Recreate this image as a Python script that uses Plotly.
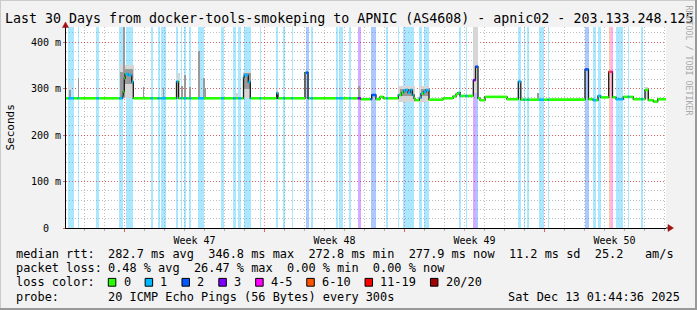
import numpy as np
import pandas as pd
import plotly.graph_objects as go

# ---------------- data ----------------
START = pd.Timestamp("2025-11-14 01:44:36")
SPAN_DAYS = 30
END = START + pd.Timedelta(days=SPAN_DAYS)
STAMP = "Sat Dec 13 01:44:36 2025"
TITLE = "Last 30 Days from docker-tools-smokeping to APNIC (AS4608) - apnic02 - 203.133.248.125"
WATERMARK = "RRDTOOL / TOBI OETIKER"

Y_MAX = 0.4323
y_ticks = [0.0, 0.1, 0.2, 0.3, 0.4]
y_tick_labels = ["0\u00a0\u00a0", "100 m", "200 m", "300 m", "400 m"]

loss_labels = ["0", "1", "2", "3", "4-5", "6-10", "11-19", "20/20"]
loss_colors = ["#26ff00", "#00b8ff", "#0059ff", "#7e00ff", "#ff00ff", "#ff5500", "#ff0000", "#a10000"]

# median rtt as steps: day into window where the value starts, value in ms
median_day = [0.000, 2.825, 2.865, 2.915, 2.950, 3.115, 3.285, 3.365, 5.525, 5.625,
              8.875, 8.915, 9.115, 9.215, 10.535, 10.600, 11.950, 12.100, 14.735, 15.285,
              15.500, 15.700, 15.865, 16.615, 16.775, 16.875, 16.975, 17.100, 17.225, 17.325,
              17.400, 17.450, 17.665, 17.750, 17.875, 18.000, 18.150, 18.850, 19.350, 19.500,
              19.600, 19.700, 20.365, 20.475, 20.600, 20.700, 20.950, 22.050, 22.615, 22.740,
              25.950, 26.125, 26.350, 26.600, 26.735, 27.135, 27.325, 27.500, 27.865, 28.365,
              28.950, 29.115, 29.365, 29.585]
median_ms = [279, 284, 293, 322, 331, 329, 314, 279, 315, 279,
             324, 329, 314, 279, 290, 279, 334, 279, 277, 286,
             277, 282, 279, 286, 291, 295, 297, 291, 297, 286,
             279, 275, 280, 289, 293, 297, 276, 279, 283, 288,
             291, 284, 318, 347, 279, 275, 282, 277, 315, 276,
             341, 277, 275, 284, 281, 336, 281, 277, 282, 277,
             297, 275, 272, 277]

# packet loss periods (days into window) and loss class index
loss_start = [0.115, 0.585, 1.500, 2.665, 2.985, 4.235, 4.575, 4.735, 5.500, 5.735,
              5.885, 6.165, 6.600, 7.750, 8.365, 8.615, 8.885, 9.675, 10.515, 10.850,
              11.275, 11.985, 12.235, 13.500, 13.635, 14.150, 14.585, 15.225, 16.010, 16.600,
              16.865, 17.660, 17.875, 19.660, 19.975, 20.365, 20.475, 22.615, 22.875, 23.065,
              23.650, 24.085, 25.950, 26.340, 26.590, 27.135, 27.230, 27.490, 27.665, 28.090,
              28.760]
loss_end = [0.400, 0.650, 1.650, 2.850, 3.365, 4.350, 4.675, 5.000, 5.600, 5.800,
            6.015, 6.265, 6.900, 7.885, 8.475, 8.765, 9.250, 9.750, 10.615, 10.935,
            11.350, 12.135, 12.335, 13.600, 13.850, 14.250, 14.735, 15.500, 16.085, 16.665,
            17.375, 17.800, 18.150, 19.750, 20.065, 20.475, 20.600, 22.740, 22.950, 23.150,
            23.900, 24.135, 26.125, 26.500, 26.750, 27.230, 27.325, 27.650, 27.865, 28.165,
            28.850]
loss_level = [1, 1, 1, 1, 1, 1, 1, 1, 1, 1,
              1, 1, 1, 1, 1, 1, 1, 1, 1, 1,
              1, 2, 1, 1, 1, 1, 3, 2, 1, 1,
              1, 1, 1, 1, 1, 3, 2, 1, 1, 1,
              1, 1, 2, 1, 1, 5, 4, 1, 1, 1,
              1]

# smoke (spread of the 20 pings): outer = min..max, inner = denser part
smoke_outer_start = [0.125, 2.700, 5.525, 8.450, 8.825, 10.525, 16.600, 17.650, 20.365, 23.575, 28.950]
smoke_outer_end = [0.250, 3.400, 5.675, 8.615, 9.250, 10.615, 17.450, 18.150, 20.615, 23.625, 29.100]
smoke_outer_lo = [279, 279, 279, 279, 279, 279, 272, 272, 290, 277, 277]
smoke_outer_hi = [312, 350, 333, 290, 336, 298, 305, 305, 450, 290, 304]

smoke_inner_start = [0.125, 0.600, 2.700, 2.875, 2.950, 3.850, 4.850, 5.735, 5.885, 6.165,
                     6.600, 6.865, 6.915, 8.875, 14.575, 16.700, 17.750, 23.585]
smoke_inner_end = [0.225, 0.650, 2.865, 2.925, 3.350, 3.885, 4.900, 5.835, 5.985, 6.235,
                   6.685, 6.915, 7.000, 9.225, 14.700, 17.325, 18.150, 23.625]
smoke_inner_lo = [279, 279, 279, 279, 310, 279, 279, 279, 279, 279,
                  279, 279, 279, 300, 277, 283, 283, 277]
smoke_inner_hi = [296, 322, 335, 440, 342, 304, 301, 305, 329, 304,
                  381, 322, 301, 333, 305, 300, 300, 290]

# statistics shown in the legend
median_stats = ["282.7 ms avg", "346.8 ms max", "272.8 ms min", "277.9 ms now", "11.2 ms sd", "25.2   am/s"]
loss_stats = ["0.48 % avg", "26.47 % max", "0.00 % min", "0.00 % now"]
probe_text = "20 ICMP Echo Pings (56 Bytes) every 300s"

# ---------------- layout helpers ----------------
FONT = "DejaVu Sans Mono"
W, H = 697, 310
ML, MR, MT, MB = 66, 31, 27, 82
PW, PH = W - ML - MR, H - MT - MB
DAY_MS = 86400000
GRID_DASH = "1px,2px"


def px(x):
    return (x - ML) / PW


def py(y):
    return (H - MB - y) / PH


def t(days):
    return [START + pd.Timedelta(days=float(d)) if d is not None else None for d in days]


def rgba(hexc, a):
    h = hexc.lstrip("#")
    return "rgba(%d,%d,%d,%.3f)" % (int(h[0:2], 16), int(h[2:4], 16), int(h[4:6], 16), a)


fig = go.Figure()

# loss background bands
ls = np.array(loss_start)
le = np.array(loss_end)
fig.add_trace(go.Bar(
    x=t((ls + le) / 2), y=[Y_MAX] * len(ls), base=0,
    width=list((le - ls) * DAY_MS),
    marker=dict(color=[rgba(loss_colors[l], 0.33) for l in loss_level], line=dict(width=0)),
    hoverinfo="skip"))


def smoke(s, e, lo, hi, color):
    s = np.array(s); e = np.array(e)
    lo = np.array(lo) / 1000.0; hi = np.array(hi) / 1000.0
    fig.add_trace(go.Bar(
        x=t((s + e) / 2), y=list(hi - lo), base=list(lo),
        width=list((e - s) * DAY_MS),
        marker=dict(color=color, line=dict(width=0)), hoverinfo="skip"))


smoke(smoke_outer_start, smoke_outer_end, smoke_outer_lo, smoke_outer_hi, "#d6d6d6")
smoke(smoke_inner_start, smoke_inner_end, smoke_inner_lo, smoke_inner_hi, "#9a9a9a")

# median: dark step line (vertical transitions)
med_s = [v / 1000.0 for v in median_ms]
fig.add_trace(go.Scatter(
    x=t(median_day + [SPAN_DAYS]), y=med_s + [med_s[-1]], mode="lines",
    line=dict(color="#1a1a1a", width=1.3, shape="hv"), hoverinfo="skip"))

# median: horizontal parts coloured by loss class
edges = sorted(set([d for d in median_day + loss_start + loss_end if 0 <= d <= SPAN_DAYS] + [SPAN_DAYS]))
segs = {k: ([], []) for k in range(len(loss_colors))}
for a, b in zip(edges[:-1], edges[1:]):
    i = max(k for k, d in enumerate(median_day) if d <= a + 1e-9)
    v = med_s[i]
    lvl = 0
    for s, e, l in zip(loss_start, loss_end, loss_level):
        if s <= a + 1e-9 and a < e - 1e-9:
            lvl = l
    segs[lvl][0].extend([a, b, None])
    segs[lvl][1].extend([v, v, None])
for lvl, (xs, ys) in segs.items():
    if xs:
        fig.add_trace(go.Scatter(x=t(xs), y=ys, mode="lines", connectgaps=False,
                                 line=dict(color=loss_colors[lvl], width=2.6), hoverinfo="skip"))

# ---------------- texts ----------------
ann = []


def text(s, x, y, size, xanchor="left", color="#000", angle=0):
    ann.append(dict(text=s.replace(" ", "\u00a0"), x=px(x), y=py(y), xref="paper", yref="paper",
                    xanchor=xanchor, yanchor="middle", showarrow=False, borderpad=0,
                    font=dict(family=FONT, size=size, color=color), textangle=angle))


text(TITLE, 348.5, 18.7, 13.3, xanchor="center")
text("Seconds", 10, 127.5, 11, xanchor="center", angle=-90)
text(WATERMARK, 688.5, 60, 8.3, xanchor="center", color="#a8a8a8", angle=90)

LEG = 11.9
rows_y = [253.7, 268.0, 282.3, 296.7]
text("median rtt:", 15.3, rows_y[0], LEG)
text("  ".join(median_stats), 106.5, rows_y[0], LEG)
text("packet loss:", 15.3, rows_y[1], LEG)
text("  ".join(loss_stats), 106.5, rows_y[1], LEG)
text("loss color:", 15.3, rows_y[2], LEG)
text("probe:", 15.3, rows_y[3], LEG)
text(probe_text, 106.5, rows_y[3], LEG)
text(STAMP, 681, rows_y[3], LEG, xanchor="right")

shapes = []
bx = 108.3
for lab, col in zip(loss_labels, loss_colors):
    shapes.append(dict(type="rect", xref="paper", yref="paper",
                       x0=px(bx), x1=px(bx + 7.5), y0=py(rows_y[2] + 3.9), y1=py(rows_y[2] - 3.9),
                       fillcolor=col, line=dict(color="#000", width=1)))
    text(lab, bx + 14.2, rows_y[2], LEG)
    bx += len(lab) * 7.14 + 29.7

# frame
shapes += [
    dict(type="line", xref="paper", yref="paper", x0=px(0), x1=px(W), y0=py(0.5), y1=py(0.5),
         line=dict(color="#cbcbcb", width=1)),
    dict(type="line", xref="paper", yref="paper", x0=px(0.5), x1=px(0.5), y0=py(0), y1=py(H),
         line=dict(color="#cbcbcb", width=1)),
    dict(type="line", xref="paper", yref="paper", x0=px(0), x1=px(W), y0=py(H - 1), y1=py(H - 1),
         line=dict(color="#999999", width=2)),
    dict(type="line", xref="paper", yref="paper", x0=px(W - 1), x1=px(W - 1), y0=py(0), y1=py(H),
         line=dict(color="#999999", width=2)),
    # axis extensions and arrows
    dict(type="line", xref="paper", yref="paper", x0=px(666), x1=px(669), y0=py(228), y1=py(228),
         line=dict(color="#000", width=1)),
    dict(type="path", xref="paper", yref="paper",
         path="M %f,%f L %f,%f L %f,%f Z" % (px(668), py(224.5), px(673.5), py(228), px(668), py(231.5)),
         fillcolor="#a01010", line=dict(color="#a01010", width=0.5)),
    dict(type="path", xref="paper", yref="paper",
         path="M %f,%f L %f,%f L %f,%f Z" % (px(62.5), py(27.5), px(65.5), py(22), px(68.5), py(27.5)),
         fillcolor="#a01010", line=dict(color="#a01010", width=0.5)),
]

fig.update_layout(
    width=W, height=H, margin=dict(l=ML, r=MR, t=MT, b=MB, pad=0),
    paper_bgcolor="#f2f2f2", plot_bgcolor="#ffffff",
    showlegend=False, barmode="overlay", bargap=0,
    font=dict(family=FONT, size=10, color="#000"),
    annotations=ann, shapes=shapes,
    xaxis=dict(type="date", range=[START, END], tick0="2025-11-17", dtick=7 * DAY_MS,
               tickformat="Week %V", ticklabelmode="period",
               showgrid=True, gridcolor="rgba(255,0,0,0.5)", griddash=GRID_DASH, gridwidth=1,
               ticks="outside", ticklen=3, tickcolor="#e06060",
               showline=True, linecolor="#000", linewidth=1, zeroline=False,
               tickfont=dict(family=FONT, size=10, color="#000"),
               minor=dict(tick0="2025-11-17", dtick=DAY_MS, showgrid=True,
                          gridcolor="rgba(0,0,0,0.25)", griddash=GRID_DASH, gridwidth=1,
                          ticks="outside", ticklen=2, tickcolor="#b0b0b0"),
               fixedrange=True),
    yaxis=dict(range=[0, Y_MAX], tickmode="array", tickvals=y_ticks, ticktext=y_tick_labels,
               showgrid=True, gridcolor="rgba(255,0,0,0.5)", griddash=GRID_DASH, gridwidth=1,
               ticks="outside", ticklen=2, tickcolor="#e06060",
               showline=True, linecolor="#000", linewidth=1, zeroline=False,
               tickfont=dict(family=FONT, size=10, color="#000"),
               minor=dict(tick0=0, dtick=0.02, showgrid=True,
                          gridcolor="rgba(0,0,0,0.25)", griddash=GRID_DASH, gridwidth=1),
               fixedrange=True),
)

fig.write_html("out.html")
